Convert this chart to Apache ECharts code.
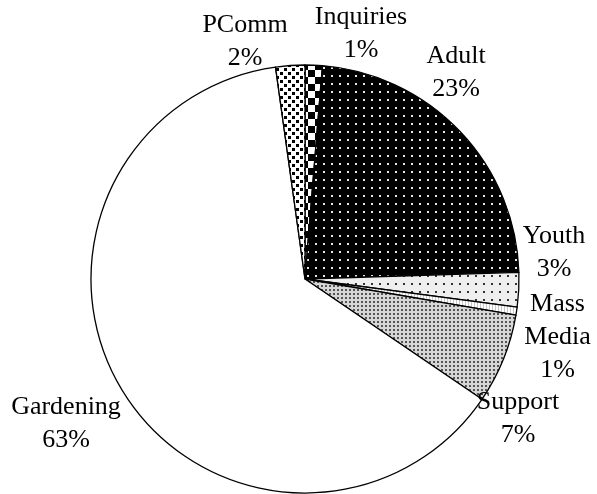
<!DOCTYPE html>
<html>
<head>
<meta charset="utf-8">
<script src="https://cdn.jsdelivr.net/npm/echarts@6/dist/echarts.min.js"></script>
<style>
  html, body { margin: 0; padding: 0; background: #fff; }
  #chart { width: 597px; height: 494px; }
</style>
</head>
<body>
<div id="chart"></div>
<script>
// ---- Data (clockwise from 12 o'clock) ----
const categories = ['Inquiries', 'Adult', 'Youth', 'Mass Media', 'Support', 'Gardening', 'PComm'];
const shares = [1.3, 23.2, 2.6, 0.6, 6.8, 63.3, 2.2];

// ---- Label anchor layout (text block centres, px) ----
const labelAnchors = {
  'Inquiries': [361, 33.5],
  'Adult': [456, 72.5],
  'Youth': [554, 253],
  'Mass Media': [557.5, 337],
  'Support': [518, 419],
  'Gardening': [66, 423.5],
  'PComm': [245, 42]
};

// ---- Pattern helpers ----
function makePattern(w, h, bg, draw) {
  const c = document.createElement('canvas');
  c.width = w; c.height = h;
  const ctx = c.getContext('2d');
  ctx.fillStyle = bg;
  ctx.fillRect(0, 0, w, h);
  draw(ctx);
  return { image: c, repeat: 'repeat' };
}
const patterns = {
  'Inquiries': makePattern(14, 14, '#ffffff', ctx => {
    ctx.fillStyle = '#000';
    ctx.fillRect(0, 0, 7, 7);
    ctx.fillRect(7, 7, 7, 7);
  }),
  'Adult': makePattern(8, 8, '#000000', ctx => {
    ctx.fillStyle = '#e6e6e6';
    ctx.fillRect(3, 3, 2, 2);
  }),
  'Youth': makePattern(8, 8, '#efefef', ctx => {
    ctx.fillStyle = '#333';
    ctx.fillRect(3, 3, 2, 2);
  }),
  'Mass Media': makePattern(3, 3, '#ffffff', ctx => {
    ctx.fillStyle = '#c8c8c8';
    ctx.fillRect(0, 0, 1, 3);
  }),
  'Support': makePattern(4, 4, '#d6d6d6', ctx => {
    ctx.fillStyle = '#555555';
    ctx.fillRect(1, 1, 2, 2);
  }),
  'Gardening': '#ffffff',
  'PComm': makePattern(8, 8, '#ffffff', ctx => {
    ctx.fillStyle = '#000';
    ctx.fillRect(0, 0, 3, 3);
    ctx.fillRect(4, 4, 3, 3);
  })
};

const chart = echarts.init(document.getElementById('chart'), null, { renderer: 'canvas' });
chart.setOption({
  animation: false,
  backgroundColor: '#ffffff',
  series: [{
    type: 'pie',
    center: [305, 279],
    radius: 214,
    startAngle: 90,
    clockwise: true,
    minAngle: 0,
    avoidLabelOverlap: false,
    silent: true,
    data: categories.map((name, i) => ({
      name: name,
      value: shares[i],
      itemStyle: { color: patterns[name] }
    })),
    itemStyle: { borderColor: '#000', borderWidth: 1.3 },
    label: {
      show: true,
      position: 'outside',
      fontFamily: '"Liberation Serif", "Times New Roman", serif',
      fontSize: 26,
      lineHeight: 33,
      color: '#000',
      align: 'center',
      formatter: p => p.name.replace(' ', '\n') + '\n' + Math.round(p.percent) + '%'
    },
    labelLine: { show: false },
    labelLayout: function (params) {
      const a = labelAnchors[categories[params.dataIndex]];
      return { x: a[0], y: a[1], align: 'center', verticalAlign: 'middle' };
    },
    emphasis: { disabled: true }
  }]
});
</script>
</body>
</html>
